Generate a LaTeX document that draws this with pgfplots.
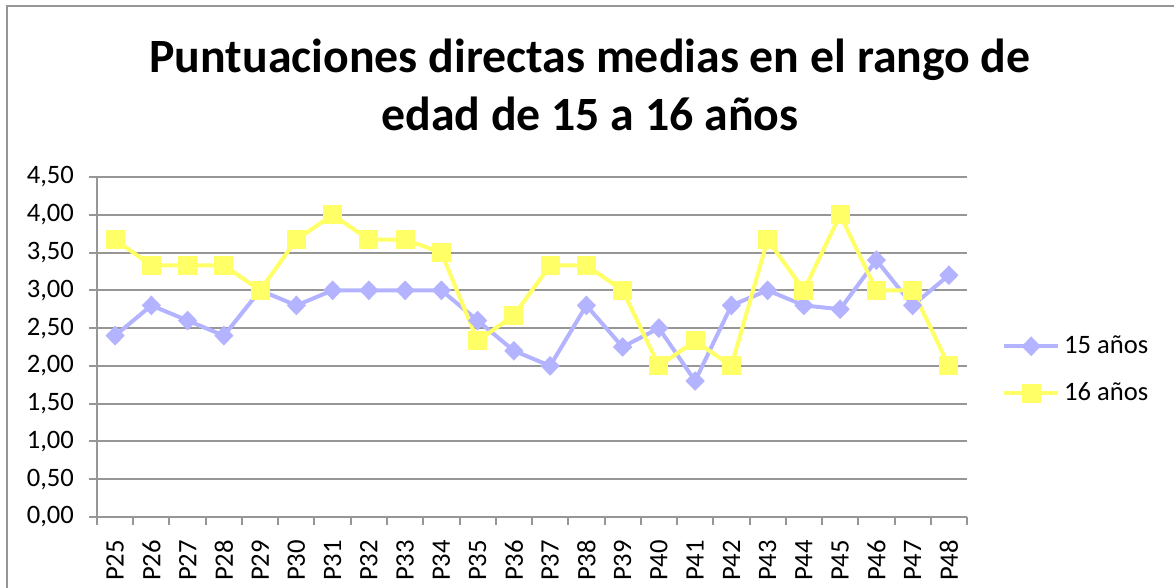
\documentclass[border=0pt]{standalone}
\usepackage{fontspec}
\setmainfont{Carlito}
\usepackage{pgfplots}
\pgfplotsset{compat=1.18}
\definecolor{lav}{RGB}{179,179,255}
\definecolor{yel}{RGB}{255,255,102}
\definecolor{gridc}{RGB}{150,150,150}

\pgfplotstableread{
x  a    b
0  2.40 3.67
1  2.80 3.33
2  2.60 3.33
3  2.40 3.33
4  3.00 3.00
5  2.80 3.67
6  3.00 4.00
7  3.00 3.67
8  3.00 3.67
9  3.00 3.50
10 2.60 2.33
11 2.20 2.67
12 2.00 3.33
13 2.80 3.33
14 2.25 3.00
15 2.50 2.00
16 1.80 2.33
17 2.80 2.00
18 3.00 3.67
19 2.80 3.00
20 2.75 4.00
21 3.40 3.00
22 2.80 3.00
23 3.20 2.00
}\datatable

\begin{document}
\begin{tikzpicture}[x=0.5pt,y=0.5pt]
% page in px, origin at bottom-left of page; axis box at (97,71)
\begin{scope}[shift={(-97,-71)}]
\useasboundingbox (0,0) rectangle (1174,588);
\draw[gridc, line width=1pt] (7,0) -- (7,582) -- (1174,582);
\node[anchor=base, font=\bfseries\fontsize{23.9}{28}\selectfont] at (590,515) {Puntuaciones directas medias en el rango de};
\node[anchor=base, font=\bfseries\fontsize{23.9}{28}\selectfont] at (590,457) {edad de 15 a 16 años};
\end{scope}
\begin{axis}[
    anchor=south west,
    scale only axis, width=435pt, height=170pt,
    xmin=-0.5, xmax=23.5, ymin=0, ymax=4.5,
    ytick={0,0.5,...,4.5},
    xtick={0,...,23},
    xticklabels={P25,P26,P27,P28,P29,P30,P31,P32,P33,P34,P35,P36,P37,P38,P39,P40,P41,P42,P43,P44,P45,P46,P47,P48},
    minor xtick={-0.5,0.5,...,23.5},
    major x tick style={draw=none},
    minor x tick style={gridc, line width=1pt},
    y tick style={gridc, line width=1pt},
    tick align=outside, major tick length=4pt, minor tick length=4pt,
    axis x line*=bottom, axis y line*=left,
    axis line style={gridc, line width=1pt, -},
    ymajorgrids, grid style={gridc, line width=1pt},
    tick label style={font=\fontsize{13.3}{15}\selectfont},
    x tick label style={rotate=90, anchor=east, xshift=-4pt},
    y tick label style={xshift=-4pt},
    yticklabel style={/pgf/number format/.cd, fixed, fixed zerofill, precision=2, use comma, assume math mode=true},
    legend style={at={(1.04,0.433)}, anchor=west, draw=none, fill=none,
        font=\fontsize{13.3}{15}\selectfont, row sep=9pt, inner sep=0pt},
    legend cell align=left,
    legend image code/.code={\draw[mark repeat=2,mark phase=2,#1] plot coordinates {(0pt,0pt) (13.5pt,0pt) (27pt,0pt)};},
]
\addplot[lav, line width=2pt, mark=diamond*, mark size=3.5pt, mark options={xscale=1.3}] table[x=x,y=a] {\datatable};
\addlegendentry{15 años}
\addplot[yel, line width=2pt, mark=square*, mark size=3.75pt] table[x=x,y=b] {\datatable};
\addlegendentry{16 años}
\end{axis}
\end{tikzpicture}
\end{document}
